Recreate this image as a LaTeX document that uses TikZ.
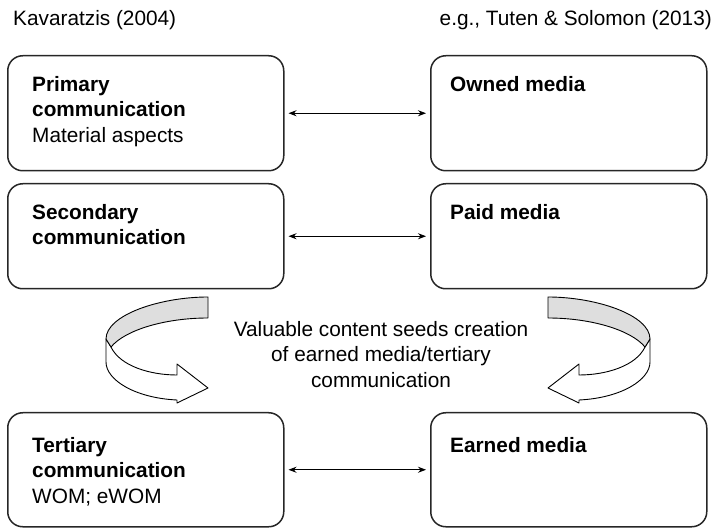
\documentclass[tikz,border=0pt]{standalone}
\usepackage{fontspec}
\setmainfont{Liberation Sans}
\usetikzlibrary{arrows.meta}
\definecolor{ribbongray}{HTML}{DEDEDE}
\begin{document}
\begin{tikzpicture}[x=1pt,y=-1pt,
  box/.style={draw=black!85, line width=1.5pt, rounded corners=15pt, minimum width=276pt, anchor=north west, inner sep=0pt},
  txt/.style={anchor=north west, inner sep=0pt, align=left, font=\fontsize{20.8}{25.5}\selectfont},
  hdr/.style={inner sep=0pt, font=\fontsize{20.8}{25.5}\selectfont},
  conn/.style={{Stealth[length=8pt,width=6pt]}-{Stealth[length=8pt,width=6pt]}, line width=0.9pt, shorten >=4pt, shorten <=4pt},
  ribbon/.style={draw=black, line width=0.9pt, line join=round}]
\useasboundingbox (0,0) rectangle (718,529);

% headers
\node[hdr, anchor=base west] (h1) at (13,26) {Kavaratzis (2004)};
\node[hdr, anchor=base east] (h2) at (712,26) {e.g., Tuten \& Solomon (2013)};

% boxes
\node[box, minimum height=115pt] (p1) at (7,55) {};
\node[box, minimum height=105pt] (p2) at (7,183) {};
\node[box, minimum height=114pt] (p3) at (7,412) {};
\node[box, minimum height=115pt] (m1) at (430,55) {};
\node[box, minimum height=105pt] (m2) at (430,183) {};
\node[box, minimum height=114pt] (m3) at (430,412) {};

% box texts
\node[txt] (p1t) at (32,76) {\textbf{Primary}\\\textbf{communication}\\Material aspects};
\node[txt] (p2t) at (32,204) {\textbf{Secondary}\\\textbf{communication}};
\node[txt] (p3t) at (32,437) {\textbf{Tertiary}\\\textbf{communication}\\WOM; eWOM};
\node[txt] (m1t) at (450,76) {\textbf{Owned media}};
\node[txt] (m2t) at (450,204) {\textbf{Paid media}};
\node[txt] (m3t) at (450,437) {\textbf{Earned media}};

% connectors
\draw[conn] (p1.east) -- (m1.west);
\draw[conn] (p2.east) -- (m2.west);
\draw[conn] (p3.east) -- (m3.west);

% middle text
\node[hdr, anchor=north, align=center] (mid) at (381,321)
  {Valuable content seeds creation\\of earned media/tertiary\\communication};

% left curved arrow
\filldraw[ribbon, fill=white]
  (106,339) -- (106,362) .. controls (106,380) and (135,398) .. (177,400)
  -- (177,403) -- (208,388) -- (177,364) -- (177,375)
  .. controls (150,375) and (120,366) .. (111,347) -- cycle;
\filldraw[ribbon, fill=ribbongray]
  (208,297) .. controls (160,297) and (106,315) .. (106,339)
  -- (111,347) .. controls (125,330) and (165,318) .. (208,318) -- cycle;

% right curved arrow (mirror image)
\begin{scope}[xshift=756pt, xscale=-1]
\filldraw[ribbon, fill=white]
  (106,339) -- (106,362) .. controls (106,380) and (135,398) .. (177,400)
  -- (177,403) -- (208,388) -- (177,364) -- (177,375)
  .. controls (150,375) and (120,366) .. (111,347) -- cycle;
\filldraw[ribbon, fill=ribbongray]
  (208,297) .. controls (160,297) and (106,315) .. (106,339)
  -- (111,347) .. controls (125,330) and (165,318) .. (208,318) -- cycle;
\end{scope}
\end{tikzpicture}
\end{document}
